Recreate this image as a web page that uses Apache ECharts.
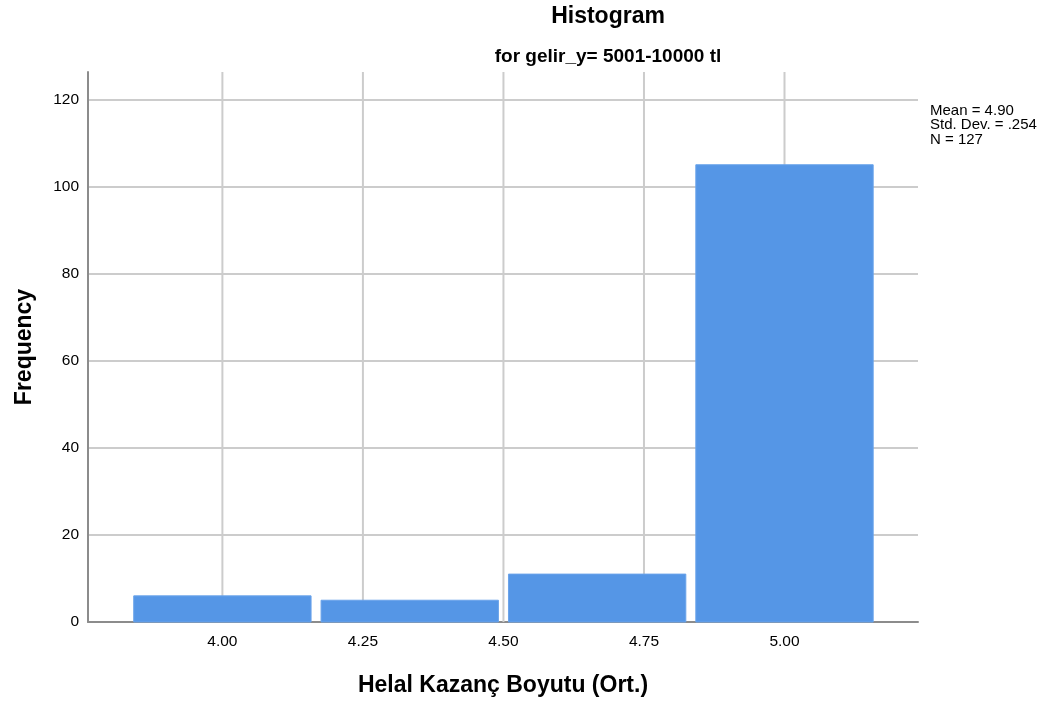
<!DOCTYPE html>
<html>
<head>
<meta charset="utf-8">
<script src="https://cdn.jsdelivr.net/npm/echarts@6/dist/echarts.min.js"></script>
<style>
html,body{margin:0;padding:0;background:#fff;}
#chart{width:1053px;height:704px;}
</style>
</head>
<body>
<div id="chart"></div>
<script>
// Data
const binCenters = [4.0, 4.3333, 4.6667, 5.0];
const binWidth = 0.3333;
const frequencies = [6, 5, 11, 105];
const xTicks = [4.00, 4.25, 4.50, 4.75, 5.00];
const statsLines = ['Mean = 4.90', 'Std. Dev. = .254', 'N = 127'];
const titleText = 'Histogram';
const subtitleText = 'for gelir_y= 5001-10000 tl';
const xAxisName = 'Helal Kazanç Boyutu (Ort.)';
const yAxisName = 'Frequency';

const font = '"Liberation Sans", Arial, sans-serif';
const chart = echarts.init(document.getElementById('chart'), null, {renderer: 'canvas'});

const barData = binCenters.map((c, i) => [c - binWidth / 2, c + binWidth / 2, frequencies[i]]);

chart.setOption({
  animation: false,
  backgroundColor: '#ffffff',
  title: [
    {text: titleText, left: 603, top: 0, textAlign: 'center',
     textStyle: {fontFamily: font, fontSize: 23, fontWeight: 'bold', color: '#000'}},
    {text: subtitleText, left: 603, top: 42, textAlign: 'center',
     textStyle: {fontFamily: font, fontSize: 19, fontWeight: 'bold', color: '#000'}}
  ],
  graphic: [
    {type: 'text', left: 930, top: 103.5,
     style: {text: statsLines.join('\n'), font: '15px ' + font, fill: '#000', lineHeight: 14.3}}
  ],
  grid: {left: 88, right: 135, top: 72, bottom: 82, containLabel: false, outerBoundsMode: 'none'},
  xAxis: {
    type: 'value', min: 3.7609, max: 5.2375,
    name: xAxisName, nameLocation: 'middle', nameGap: 52,
    nameTextStyle: {fontFamily: font, fontSize: 23, fontWeight: 'bold', color: '#000'},
    axisLine: {show: true, lineStyle: {color: '#8c8c8c', width: 2}},
    axisTick: {show: false},
    splitLine: {show: false},
    axisLabel: {show: false}
  },
  yAxis: {
    type: 'value', min: 0, max: 126.3, interval: 20,
    name: yAxisName, nameLocation: 'middle', nameGap: 52, nameRotate: 90,
    nameTextStyle: {fontFamily: font, fontSize: 23, fontWeight: 'bold', color: '#000'},
    axisLine: {show: true, lineStyle: {color: '#8c8c8c', width: 2}},
    axisTick: {show: false},
    splitLine: {show: true, showMaxLine: false, lineStyle: {color: '#cccccc', width: 2}},
    axisLabel: {fontFamily: font, fontSize: 15.5, color: '#000', margin: 9,
      showMaxLabel: false,
      formatter: v => (v % 20 === 0 ? String(v) : '')}
  },
  series: [
    {
      type: 'custom',
      name: 'xgrid',
      silent: true,
      z: 1,
      data: xTicks.map(t => [t]),
      renderItem: (params, api) => {
        const x = api.coord([api.value(0), 0])[0];
        const cs = params.coordSys;
        return {type: 'group', children: [
          {type: 'line', shape: {x1: x, y1: cs.y, x2: x, y2: cs.y + cs.height},
           style: {stroke: '#cccccc', lineWidth: 2}},
          {type: 'text', x: x, y: cs.y + cs.height + 12,
           style: {text: api.value(0).toFixed(2), font: '15.5px ' + font, fill: '#000', align: 'center', verticalAlign: 'top'}}
        ]};
      }
    },
    {
      type: 'custom',
      name: 'Frequency',
      z: 3,
      data: barData,
      encode: {x: [0, 1], y: 2},
      renderItem: (params, api) => {
        const p0 = api.coord([api.value(0), 0]);
        const p1 = api.coord([api.value(1), api.value(2)]);
        const gap = 5;
        return {type: 'rect',
          shape: {x: p0[0] + gap, y: p1[1], width: p1[0] - p0[0] - 2 * gap, height: p0[1] - p1[1]},
          style: {fill: '#5596e6', stroke: '#6aa3ea', lineWidth: 1}};
      }
    }
  ]
});
</script>
</body>
</html>
